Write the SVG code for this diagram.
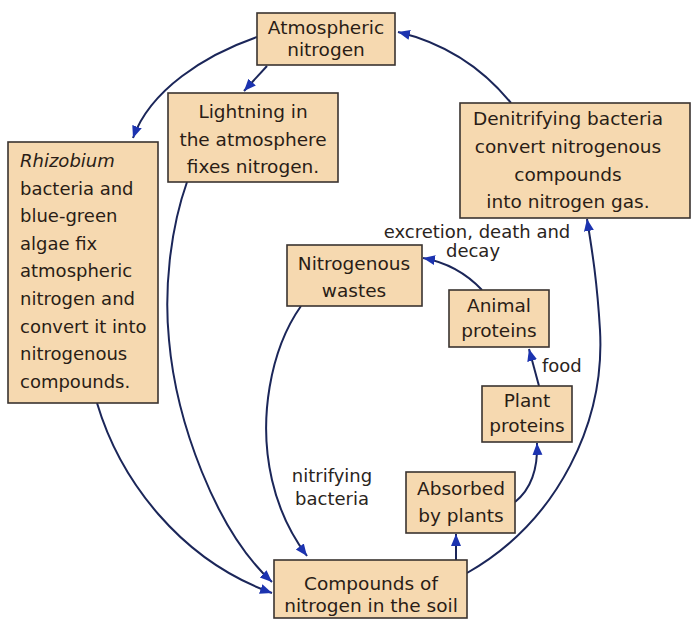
<svg xmlns="http://www.w3.org/2000/svg" width="691" height="620" viewBox="0 0 691 620">
<defs>
<style>
.box{fill:#f6d9b0;stroke:#3a3330;stroke-width:1.6}
.t{font-family:"DejaVu Sans",sans-serif;font-size:18.5px;fill:#2a1d16;text-anchor:middle}
.l{font-family:"DejaVu Sans",sans-serif;font-size:18px;fill:#2a1d16}
.lab{font-family:"DejaVu Sans",sans-serif;font-size:18px;fill:#2a2420}
.c{fill:none;stroke:#1b2659;stroke-width:2}
</style>
<marker id="ah" markerUnits="userSpaceOnUse" markerWidth="14" markerHeight="12" refX="12" refY="6" orient="auto">
<path d="M0,1 L12,6 L0,11 Z" fill="#1c33b0"/>
</marker>
</defs>
<rect width="691" height="620" fill="#ffffff"/>
<g id="connectors">
<path class="c" marker-end="url(#ah)" d="M257,37 C205,55 150,90 133,138"/>
<path class="c" marker-end="url(#ah)" d="M267,66 L244,91"/>
<path class="c" marker-end="url(#ah)" d="M511,103 C480,65 440,42 398,32"/>
<path class="c" marker-end="url(#ah)" d="M187,182 C170,230 164,290 169,340 C176,420 215,530 272,582"/>
<path class="c" marker-end="url(#ah)" d="M97,403 C120,480 180,560 272,593"/>
<path class="c" marker-end="url(#ah)" d="M301,306 C270,350 258,420 272,480 C280,515 295,540 307,556"/>
<path class="c" marker-end="url(#ah)" d="M456,560 L456,534"/>
<path class="c" marker-end="url(#ah)" d="M515,502 C530,490 538,470 537,443"/>
<path class="c" marker-end="url(#ah)" d="M539,386 L529,349"/>
<path class="c" marker-end="url(#ah)" d="M482,290 C465,272 445,262 423,258"/>
<path class="c" marker-end="url(#ah)" d="M467,573 C560,520 605,420 600,330 C597,280 592,250 587,219"/>
</g>
<g id="atmospheric">
<rect class="box" x="257" y="13" width="138" height="52"/>
<text class="t" x="326" y="34">Atmospheric</text>
<text class="t" x="326" y="56">nitrogen</text>
</g>
<g id="lightning">
<rect class="box" x="168" y="93" width="170" height="89"/>
<text class="t" x="253" y="118">Lightning in</text>
<text class="t" x="253" y="146">the atmosphere</text>
<text class="t" x="253" y="173">fixes nitrogen.</text>
</g>
<g id="rhizobium">
<rect class="box" x="8" y="142" width="150" height="261"/>
<text class="l" x="20" y="167" font-style="italic" fill="#6a2818">Rhizobium</text>
<text class="l" x="20" y="195">bacteria and</text>
<text class="l" x="20" y="222">blue-green</text>
<text class="l" x="20" y="250">algae fix</text>
<text class="l" x="20" y="277">atmospheric</text>
<text class="l" x="20" y="305">nitrogen and</text>
<text class="l" x="20" y="333">convert it into</text>
<text class="l" x="20" y="360">nitrogenous</text>
<text class="l" x="20" y="388">compounds.</text>
</g>
<g id="denitrifying">
<rect class="box" x="460" y="103" width="230" height="115"/>
<text class="t" x="568" y="125" font-size="20">Denitrifying bacteria</text>
<text class="t" x="568" y="153" font-size="20">convert nitrogenous</text>
<text class="t" x="568" y="181" font-size="20">compounds</text>
<text class="t" x="568" y="208" font-size="20">into nitrogen gas.</text>
</g>
<g id="wastes">
<rect class="box" x="287" y="245" width="135" height="61"/>
<text class="t" x="354" y="270">Nitrogenous</text>
<text class="t" x="354" y="297">wastes</text>
</g>
<g id="animal">
<rect class="box" x="449" y="290" width="100" height="57"/>
<text class="t" x="499" y="312">Animal</text>
<text class="t" x="499" y="337">proteins</text>
</g>
<g id="plant">
<rect class="box" x="482" y="386" width="90" height="56"/>
<text class="t" x="527" y="407">Plant</text>
<text class="t" x="527" y="432">proteins</text>
</g>
<g id="absorbed">
<rect class="box" x="406" y="472" width="109" height="61"/>
<text class="t" x="461" y="495">Absorbed</text>
<text class="t" x="461" y="522">by plants</text>
</g>
<g id="compounds">
<rect class="box" x="274" y="560" width="193" height="58"/>
<text class="t" x="371" y="590">Compounds of</text>
<text class="t" x="371" y="612">nitrogen in the soil</text>
</g>
<g id="labels">
<text class="lab" x="477" y="238" text-anchor="middle">excretion, death and</text>
<text class="lab" x="473" y="257" text-anchor="middle">decay</text>
<text class="lab" x="542" y="372">food</text>
<text class="lab" x="332" y="482" text-anchor="middle">nitrifying</text>
<text class="lab" x="332" y="505" text-anchor="middle">bacteria</text>
</g>
</svg>
